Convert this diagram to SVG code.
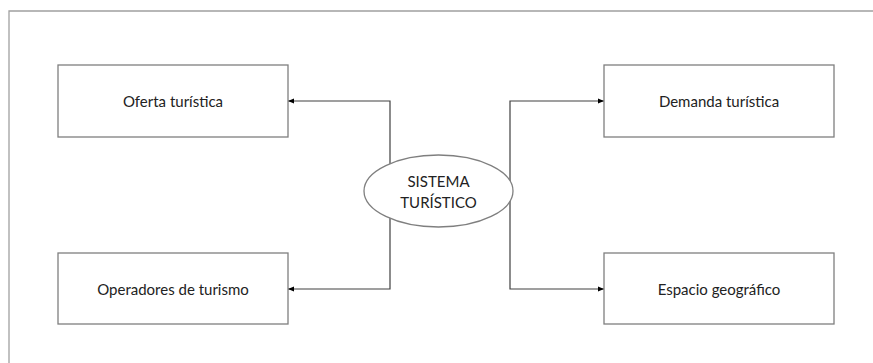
<svg xmlns="http://www.w3.org/2000/svg" width="873" height="363" viewBox="0 0 873 363">
<style>
.box{fill:#fff;stroke:#7f7f7f;stroke-width:1.3}
.frame{fill:none;stroke:#a0a0a0;stroke-width:1.3}
.conn{fill:none;stroke:#404040;stroke-width:1.2}
.lbl{font-family:Lato,"Open Sans",sans-serif;font-size:15px;fill:#222;text-anchor:middle;dominant-baseline:central}
</style>
<defs>
<marker id="arr" viewBox="0 0 10 10" refX="10" refY="5" markerWidth="6" markerHeight="6" markerUnits="userSpaceOnUse" orient="auto">
<path d="M0,1 L10,5 L0,9 z" fill="#000"/>
</marker>
</defs>
<path class="frame" d="M9,363 L9,11 L873,11"/>
<g id="connectors">
<path class="conn" d="M390,190 L390,101 L288,101" marker-end="url(#arr)"/>
<path class="conn" d="M390,190 L390,289 L288,289" marker-end="url(#arr)"/>
<path class="conn" d="M510,190 L510,101 L604,101" marker-end="url(#arr)"/>
<path class="conn" d="M510,190 L510,289 L604,289" marker-end="url(#arr)"/>
</g>
<g id="sistema">
<ellipse class="box" cx="438.5" cy="191" rx="74.5" ry="36"/>
<text class="lbl" x="438.5" y="181">SISTEMA</text>
<text class="lbl" x="438.5" y="202">TURÍSTICO</text>
</g>
<g id="oferta">
<rect class="box" x="58" y="65" width="230" height="72"/>
<text class="lbl" x="173" y="101">Oferta turística</text>
</g>
<g id="operadores">
<rect class="box" x="58" y="253" width="230" height="71"/>
<text class="lbl" x="173" y="289">Operadores de turismo</text>
</g>
<g id="demanda">
<rect class="box" x="604" y="65" width="230" height="72"/>
<text class="lbl" x="719" y="101">Demanda turística</text>
</g>
<g id="espacio">
<rect class="box" x="604" y="253" width="230" height="71"/>
<text class="lbl" x="719" y="289">Espacio geográfico</text>
</g>
</svg>
